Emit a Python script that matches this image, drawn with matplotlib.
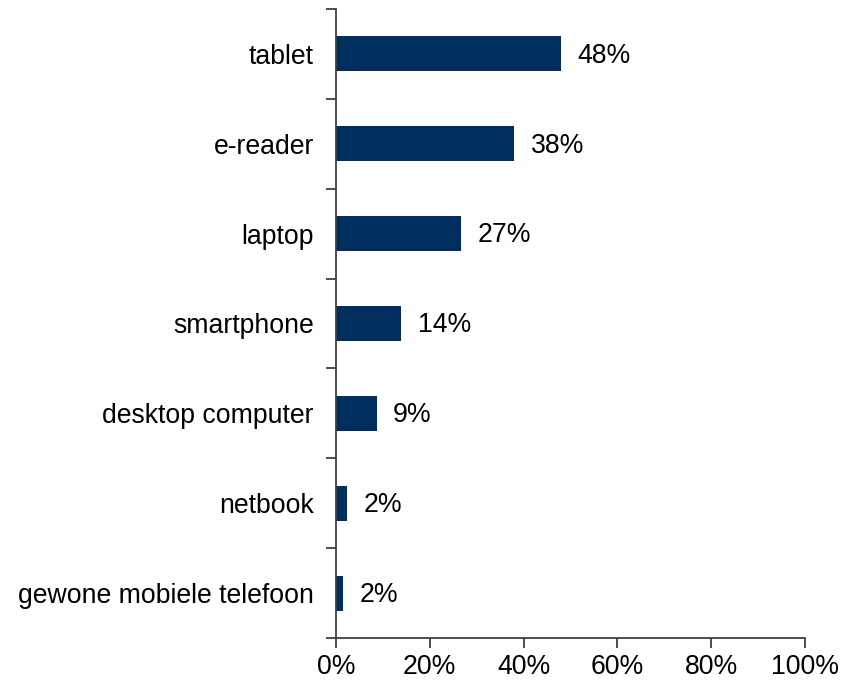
import numpy as np
import matplotlib
matplotlib.use("Agg")
import matplotlib.pyplot as plt

plt.rcParams['font.family'] = ['Liberation Sans', 'DejaVu Sans']

# data to plot
categories = ['tablet', 'e-reader', 'laptop', 'smartphone', 'desktop computer',
              'netbook', 'gewone mobiele telefoon']
values = [48, 38, 27, 14, 9, 2, 2]
bar_lengths = [48, 38, 26.7, 13.9, 8.7, 2.3, 1.5]
x_ticks = [0, 20, 40, 60, 80, 100]

fig = plt.figure(figsize=(8.41, 6.85), dpi=100)
ax = fig.add_axes([0.3995, 0.0686, 0.5575, 0.9183])

index = np.arange(len(categories))
ax.barh(index, bar_lengths, height=0.39, color='#002F5F')

for i, (v, l) in enumerate(zip(values, bar_lengths)):
    ax.text(l + 3.5, i + 0.02, '%d%%' % v, va='center', ha='left', fontsize=19.2)

ax.set_xlim(0, 100)
ax.set_ylim(len(categories) - 0.5, -0.5)
ax.set_xticks(x_ticks)
ax.set_xticklabels(['%d%%' % t for t in x_ticks], fontsize=19.2)
ax.set_yticks(index)
ax.set_yticklabels(categories, fontsize=19.2)
ax.set_yticks(np.arange(-0.5, len(categories)), minor=True)
ax.tick_params(axis='y', which='major', length=0, pad=16)
ax.tick_params(axis='y', which='minor', length=7, width=1.3, color='#404040', direction='out')
ax.tick_params(axis='x', length=7, width=1.3, color='#404040', direction='out', pad=4.5)

for s in ['top', 'right']:
    ax.spines[s].set_visible(False)
for s in ['left', 'bottom']:
    ax.spines[s].set_color('#404040')
    ax.spines[s].set_linewidth(1.3)

fig.savefig('out.png', dpi=100)
